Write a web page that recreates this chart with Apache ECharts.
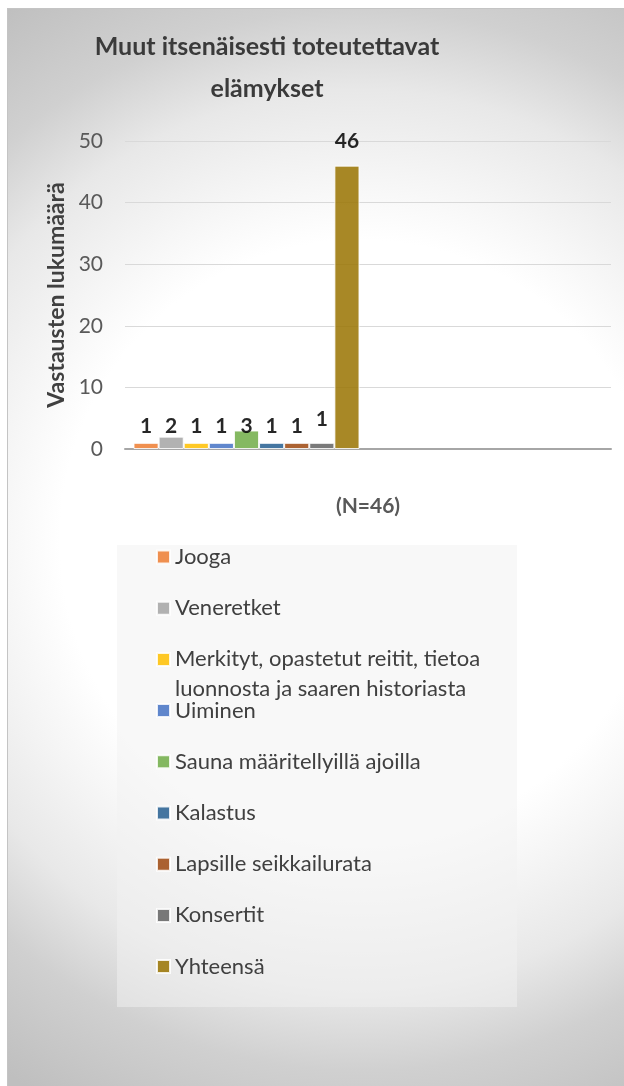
<!DOCTYPE html>
<html lang="fi">
<head>
    <meta charset="UTF-8">
    <title>Muut itsenäisesti toteutettavat elämykset</title>
    <script src="https://cdn.jsdelivr.net/npm/echarts@6/dist/echarts.min.js"></script>
    <style>
        html, body {
            margin: 0;
            padding: 0;
            background: #ffffff;
        }
        #container {
            position: absolute;
            left: 7px;
            top: 8px;
            width: 616px;
            height: 1077px;
            border-left: 1px solid #c4c4c4;
            border-top: 1px solid #c4c4c4;
            background: radial-gradient(circle 640px at 352px 531px, #ffffff 0px, #ffffff 300px, #f6f6f6 360px, #e8e8e8 450px, #d0d0d0 531px, #bfbfbf 640px);
        }
    </style>
</head>
<body>
<div id="container"></div>
<script type="text/javascript">
    // data
    const categories = ['Vastaukset', ''];
    const seriesNames = ['Jooga', 'Veneretket', 'Merkityt, opastetut reitit, tietoa luonnosta ja saaren historiasta',
        'Uiminen', 'Sauna määritellyillä ajoilla', 'Kalastus', 'Lapsille seikkailurata', 'Konsertit', 'Yhteensä'];
    const seriesValues = [1, 2, 1, 1, 3, 1, 1, 1, 46];
    const yTicks = [0, 10, 20, 30, 40, 50];

    const colors = ['#ED7D31', '#A5A5A5', '#FFC000', '#4472C4', '#70AD47', '#255E91', '#9E480E', '#636363', '#997300'];
    const font = 'Lato';

    let dom = document.getElementById("container");
    let myChart = echarts.init(dom);

    // one legend per row, so the wrapped row keeps the same spacing as the others
    let legends = seriesNames.map(function (name, i) {
        let center = 548 + 51.2 * i;
        let wrapped = name.indexOf('Merkityt') === 0;
        return {
            left: 148,
            top: wrapped ? center - 45 : center - 15,
            padding: 0,
            itemWidth: 13,
            itemHeight: 13,
            itemGap: 0,
            icon: 'rect',
            data: [name],
            formatter: function (n) {
                // empty first line keeps the marker next to the first text line
                return n.indexOf('Merkityt') === 0 ? '\nMerkityt, opastetut reitit, tietoa\nluonnosta ja saaren historiasta' : n;
            },
            textStyle: {
                fontFamily: font,
                fontSize: 22,
                color: '#404040',
                lineHeight: 30
            }
        };
    });

    let series = seriesNames.map(function (name, i) {
        let label = {
            show: true,
            position: 'insideBottom',
            distance: 12,
            fontFamily: font,
            fontWeight: 'bold',
            fontSize: 21,
            color: '#000000'
        };
        if (name === 'Konsertit') {
            label.distance = 19;
        }
        if (name === 'Yhteensä') {
            label.position = 'top';
            label.distance = 14;
        }
        return {
            name: name,
            type: 'bar',
            barGap: '0%',
            barCategoryGap: '7%',
            itemStyle: {
                color: colors[i],
                opacity: 0.85,
                borderColor: '#ffffff',
                borderWidth: 1
            },
            label: label,
            data: [seriesValues[i]]
        };
    });

    let option = {
        backgroundColor: 'transparent',
        animation: false,
        title: {
            text: 'Muut itsenäisesti toteutettavat\nelämykset',
            left: 254,
            top: 12,
            textAlign: 'center',
            textStyle: {
                fontFamily: font,
                fontSize: 25,
                fontWeight: 'bold',
                color: '#3a3a3a',
                lineHeight: 42
            }
        },
        graphic: [
            {
                type: 'rect',
                left: 109,
                top: 536,
                z: -1,
                shape: { width: 400, height: 462 },
                style: { fill: 'rgba(242,242,242,0.5)' }
            }
        ],
        legend: legends,
        grid: {
            left: 117,
            right: 13,
            top: 132,
            bottom: 637
        },
        xAxis: {
            type: 'category',
            data: categories,
            name: '(N=46)',
            nameLocation: 'middle',
            nameGap: 47,
            nameTextStyle: {
                fontFamily: font,
                fontSize: 21,
                fontWeight: 'bold',
                color: '#595959'
            },
            axisLine: { lineStyle: { color: '#a6a6a6', width: 2 } },
            axisTick: { show: false },
            axisLabel: { show: false }
        },
        yAxis: {
            type: 'value',
            min: yTicks[0],
            max: yTicks[yTicks.length - 1],
            interval: 10,
            name: 'Vastausten lukumäärä',
            nameLocation: 'middle',
            nameGap: 57,
            nameTextStyle: {
                fontFamily: font,
                fontSize: 23,
                fontWeight: 'bold',
                color: '#404040'
            },
            axisLine: { show: false },
            axisTick: { show: false },
            axisLabel: {
                margin: 22,
                fontFamily: font,
                fontSize: 21,
                color: '#595959'
            },
            splitLine: { lineStyle: { color: '#d9d9d9', width: 1 } }
        },
        series: series
    };
    myChart.setOption(option);
</script>
</body>
</html>
